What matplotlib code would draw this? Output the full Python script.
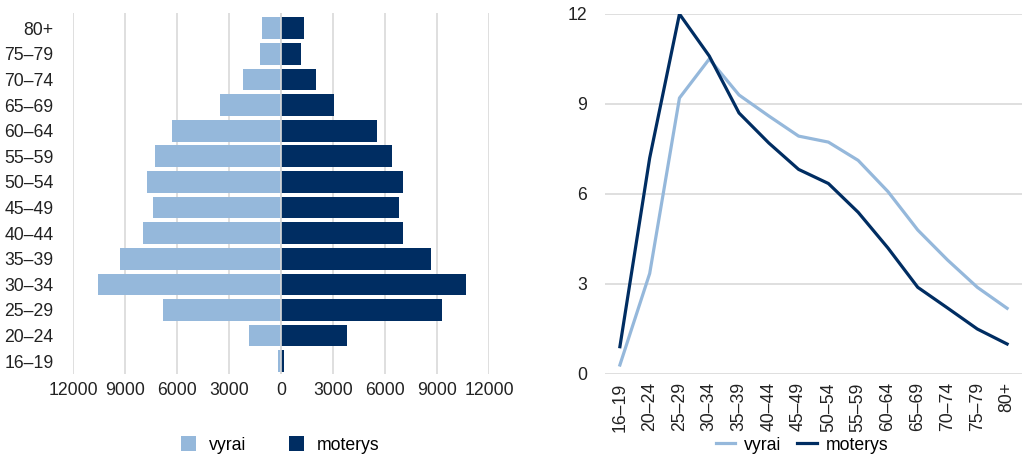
import matplotlib
matplotlib.use("Agg")
import matplotlib.pyplot as plt
from matplotlib.patches import Patch
from matplotlib.lines import Line2D
import numpy as np

plt.rcParams['font.family'] = ['Liberation Sans', 'DejaVu Sans']

categories = ["16–19", "20–24", "25–29", "30–34", "35–39", "40–44", "45–49",
              "50–54", "55–59", "60–64", "65–69", "70–74", "75–79", "80+"]
men_counts = [190, 1820, 6810, 10530, 9310, 7980, 7400, 7750, 7280, 6290, 3500, 2170, 1240, 1120]
women_counts = [155, 3810, 9270, 10670, 8640, 7010, 6780, 7010, 6430, 5560, 3060, 2015, 1140, 1320]
men_share = [0.3, 3.35, 9.2, 10.5, 9.3, 8.6, 7.93, 7.73, 7.12, 6.08, 4.8, 3.8, 2.89, 2.19]
women_share = [0.91, 7.2, 12.0, 10.6, 8.7, 7.7, 6.82, 6.35, 5.39, 4.2, 2.89, 2.2, 1.5, 1.0]
left_ticks = [-12000, -9000, -6000, -3000, 0, 3000, 6000, 9000, 12000]
right_ticks = [0, 3, 6, 9, 12]
series_names = ["vyrai", "moterys"]

c_light = '#95B8DB'
c_dark = '#002D62'
grid_c = '#D9D9D9'
txt_c = '#222222'
fs = 12.7

fig = plt.figure(figsize=(10.22, 4.57), dpi=100)

# Left: population pyramid
ax1 = fig.add_axes([73/1022, 1-374/457, 416/1022, 361/457])
y = np.arange(len(categories))
ax1.barh(y, [-v for v in men_counts], height=0.85, color=c_light, zorder=2)
ax1.barh(y, women_counts, height=0.85, color=c_dark, zorder=2)
ax1.set_xlim(-12000, 12000)
ax1.set_ylim(-0.5, 13.6)
ax1.set_xticks(left_ticks)
ax1.set_xticklabels([str(abs(t)) for t in left_ticks])
ax1.set_yticks(y)
ax1.set_yticklabels(categories)
ax1.tick_params(axis='both', length=0, labelsize=fs, colors=txt_c)
ax1.tick_params(axis='y', pad=14)
ax1.tick_params(axis='x', pad=6)
for s in ax1.spines.values():
    s.set_visible(False)
ax1.grid(axis='x', color=grid_c, linewidth=1.2, zorder=0)
ax1.set_axisbelow(True)
ax1.axvline(0, color=grid_c, linewidth=1.2, zorder=3)
handles = [Patch(facecolor=c_light, edgecolor='none'), Patch(facecolor=c_dark, edgecolor='none')]
fig.legend(handles, series_names, loc='center', bbox_to_anchor=(280/1022, 1-445/457),
           ncol=2, frameon=False, fontsize=fs, handlelength=0.9, handleheight=0.9,
           columnspacing=2.4, handletextpad=0.7)

# Right: line chart
ax2 = fig.add_axes([605/1022, 1-374/457, 417/1022, 360/457])
x = np.arange(len(categories))
ax2.plot(x, men_share, color=c_light, linewidth=2.3, zorder=3)
ax2.plot(x, women_share, color=c_dark, linewidth=2.3, zorder=4)
ax2.set_xlim(-0.5, 13.5)
ax2.set_ylim(0, 12)
ax2.set_yticks(right_ticks)
ax2.set_xticks(x)
ax2.set_xticklabels(categories, rotation=90)
ax2.tick_params(axis='both', length=0, labelsize=fs, colors=txt_c)
ax2.tick_params(axis='y', pad=13)
ax2.tick_params(axis='x', pad=6)
for s in ax2.spines.values():
    s.set_visible(False)
ax2.grid(axis='y', color=grid_c, linewidth=1.2, zorder=0)
ax2.set_axisbelow(True)
lh = [Line2D([0], [0], color=c_light, lw=2.3), Line2D([0], [0], color=c_dark, lw=2.3)]
fig.legend(lh, series_names, loc='center', bbox_to_anchor=(802/1022, 1-445/457),
           ncol=2, frameon=False, fontsize=fs, handlelength=1.1,
           columnspacing=0.9, handletextpad=0.5)

fig.savefig("out.png", dpi=100)
